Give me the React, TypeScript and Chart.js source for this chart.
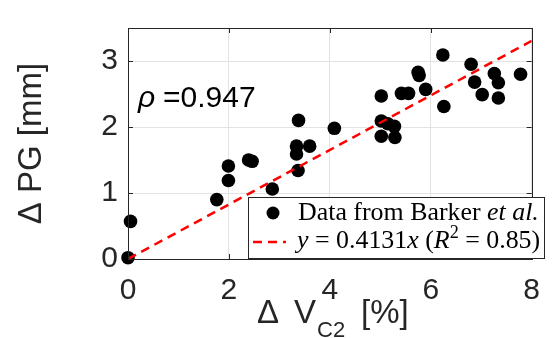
import React, { useEffect, useRef } from "react";
import { Chart, registerables } from "chart.js";

Chart.register(...registerables);

// Data (ΔV_C2 [%] vs ΔPG [mm])
const dataX = [0.0, 0.05, 1.76, 1.99, 1.99, 2.39, 2.46, 2.86, 3.34, 3.34, 3.37, 3.38, 3.6, 4.09, 5.02, 5.02, 5.15, 5.28, 5.02, 5.29, 5.42, 5.56, 5.75, 5.77, 5.9, 6.24, 6.26, 6.8, 6.87, 7.02, 7.26, 7.34, 7.34, 7.78];
const dataY = [0.02, 0.57, 0.9, 1.41, 1.19, 1.5, 1.48, 1.06, 1.71, 1.59, 1.34, 2.1, 1.71, 1.98, 2.47, 2.09, 2.05, 2.01, 1.86, 1.84, 2.51, 2.51, 2.83, 2.78, 2.57, 3.09, 2.31, 2.95, 2.68, 2.49, 2.81, 2.67, 2.44, 2.8];
const fitX = [0, 8];
const fitY = [0, 3.3048];
const xTicks = [0, 2, 4, 6, 8];
const yTicks = [0, 1, 2, 3];
const legendLabels = ["Data from Barker et al.", "y = 0.4131x (R² = 0.85)"];
const rhoLabel = "=0.947";

const AXIS = "#262626";
const SANS = "'Liberation Sans', Arial, Helvetica, sans-serif";
const SERIF = "'Liberation Serif', 'Times New Roman', serif";

type Seg = { t: string; italic?: boolean; sup?: boolean };

function drawSegs(ctx: CanvasRenderingContext2D, segs: Seg[], x: number, y: number, size: number) {
  let cx = x;
  for (const s of segs) {
    const fs = s.sup ? size * 0.7 : size;
    ctx.font = `${s.italic ? "italic " : ""}${fs}px ${SERIF}`;
    ctx.fillText(s.t, cx, s.sup ? y - size * 0.38 : y);
    cx += ctx.measureText(s.t).width;
  }
}

function segWidth(ctx: CanvasRenderingContext2D, segs: Seg[], size: number) {
  let w = 0;
  for (const s of segs) {
    const fs = s.sup ? size * 0.7 : size;
    ctx.font = `${s.italic ? "italic " : ""}${fs}px ${SERIF}`;
    w += ctx.measureText(s.t).width;
  }
  return w;
}

const overlay = {
  id: "overlay",
  afterDraw(chart: any) {
    const ctx: CanvasRenderingContext2D = chart.ctx;
    const a = chart.chartArea;
    const xs = chart.scales.x;
    const ys = chart.scales.y;
    ctx.save();
    // box
    ctx.strokeStyle = AXIS;
    ctx.lineWidth = 1;
    ctx.strokeRect(Math.round(a.left) + 0.5, Math.round(a.top) + 0.5, Math.round(a.right - a.left), Math.round(a.bottom - a.top));
    // inward ticks
    const tl = 5;
    ctx.beginPath();
    for (const v of xTicks) {
      const px = Math.round(xs.getPixelForValue(v)) + 0.5;
      ctx.moveTo(px, a.bottom);
      ctx.lineTo(px, a.bottom - tl);
      ctx.moveTo(px, a.top);
      ctx.lineTo(px, a.top + tl);
    }
    for (const v of yTicks) {
      const py = Math.round(ys.getPixelForValue(v)) + 0.5;
      ctx.moveTo(a.left, py);
      ctx.lineTo(a.left + tl, py);
      ctx.moveTo(a.right, py);
      ctx.lineTo(a.right - tl, py);
    }
    ctx.stroke();

    // y-axis title
    ctx.fillStyle = AXIS;
    ctx.save();
    ctx.translate(32, (a.top + a.bottom) / 2);
    ctx.rotate(-Math.PI / 2);
    ctx.font = `33px ${SANS}`;
    ctx.textAlign = "center";
    ctx.textBaseline = "middle";
    ctx.fillText("Δ PG [mm]", 0, 0);
    ctx.restore();

    // x-axis title with subscript
    ctx.textBaseline = "alphabetic";
    ctx.textAlign = "left";
    const base = 323;
    ctx.font = `33px ${SANS}`;
    ctx.fillText("Δ", 257, base);
    ctx.fillText("V", 294, base);
    ctx.font = `22px ${SANS}`;
    ctx.fillText("C2", 317, base + 14);
    ctx.font = `33px ${SANS}`;
    ctx.fillText("[%]", 361, base);

    // rho annotation
    ctx.fillStyle = "#000";
    ctx.font = `italic 30px ${SANS}`;
    ctx.fillText("ρ", 138, 107);
    ctx.font = `30px ${SANS}`;
    ctx.fillText(rhoLabel, 163, 107);

    // legend
    const lx = 248, ly = 197, lw = 297, lh = 62;
    ctx.fillStyle = "#fff";
    ctx.fillRect(lx, ly, lw, lh);
    ctx.strokeStyle = AXIS;
    ctx.lineWidth = 1;
    ctx.strokeRect(lx + 0.5, ly + 0.5, lw - 1, lh - 1);
    // marker
    ctx.fillStyle = "#000";
    ctx.beginPath();
    ctx.arc(273, 213, 6.5, 0, Math.PI * 2);
    ctx.fill();
    // dashed line sample
    ctx.strokeStyle = "#ff0000";
    ctx.lineWidth = 2.5;
    ctx.setLineDash([9, 6]);
    ctx.beginPath();
    ctx.moveTo(253, 242);
    ctx.lineTo(286, 242);
    ctx.stroke();
    ctx.setLineDash([]);
    // legend texts
    ctx.fillStyle = "#000";
    const segs1: Seg[] = [{ t: "Data from Barker " }, { t: "et al.", italic: true }];
    const segs2: Seg[] = [
      { t: "y", italic: true },
      { t: " = 0.4131" },
      { t: "x", italic: true },
      { t: " (" },
      { t: "R", italic: true },
      { t: "2", sup: true },
      { t: " = 0.85)" },
    ];
    const s1 = Math.min(26, 22 * 240 / segWidth(ctx, segs1, 22));
    const s2 = Math.min(26, 22 * 245 / segWidth(ctx, segs2, 22));
    const fs = (s1 + s2) / 2;
    drawSegs(ctx, segs1, 298, 220, fs);
    drawSegs(ctx, segs2, 297, 248, fs);
    ctx.restore();
  },
};

export default function App() {
  const ref = useRef<HTMLCanvasElement | null>(null);
  useEffect(() => {
    document.body.style.margin = "0";
    const canvas = ref.current!;
    const chart = new Chart(canvas, {
      type: "scatter",
      data: {
        datasets: [
          {
            label: legendLabels[1],
            data: fitX.map((x, i) => ({ x, y: fitY[i] })),
            showLine: true,
            borderColor: "#ff0000",
            borderWidth: 2.5,
            borderDash: [9, 6],
            pointRadius: 0,
            fill: false,
            order: 1,
          } as any,
          {
            label: legendLabels[0],
            data: dataX.map((x, i) => ({ x, y: dataY[i] })),
            backgroundColor: "#000",
            borderWidth: 0,
            pointRadius: 6.8,
            clip: false,
            order: 2,
          } as any,
        ],
      },
      options: {
        responsive: false,
        animation: false,
        devicePixelRatio: 1,
        layout: { padding: { top: 9, right: 10, left: 0, bottom: 0 } },
        plugins: { legend: { display: false }, tooltip: { enabled: false } },
        scales: {
          x: {
            type: "linear",
            min: 0,
            max: 8,
            afterBuildTicks: (s: any) => {
              s.ticks = xTicks.map((v) => ({ value: v }));
            },
            afterFit: (s: any) => {
              s.height = 79;
            },
            grid: { color: "#e3e3e3", drawTicks: false, lineWidth: 1 },
            border: { display: false },
            ticks: { color: AXIS, font: { family: SANS, size: 30 }, padding: 14, maxRotation: 0 },
          },
          y: {
            type: "linear",
            min: 0,
            max: 3.5,
            afterBuildTicks: (s: any) => {
              s.ticks = yTicks.map((v) => ({ value: v }));
            },
            afterFit: (s: any) => {
              s.width = 128;
            },
            grid: { color: "#e3e3e3", drawTicks: false, lineWidth: 1 },
            border: { display: false },
            ticks: { color: AXIS, font: { family: SANS, size: 30 }, padding: 10 },
          },
        },
      },
      plugins: [overlay],
    });
    return () => chart.destroy();
  }, []);
  return (
    <div style={{ position: "fixed", left: 0, top: 0, width: 554, height: 338, background: "#fff" }}>
      <canvas ref={ref} width={554} height={338} style={{ display: "block" }} />
    </div>
  );
}
